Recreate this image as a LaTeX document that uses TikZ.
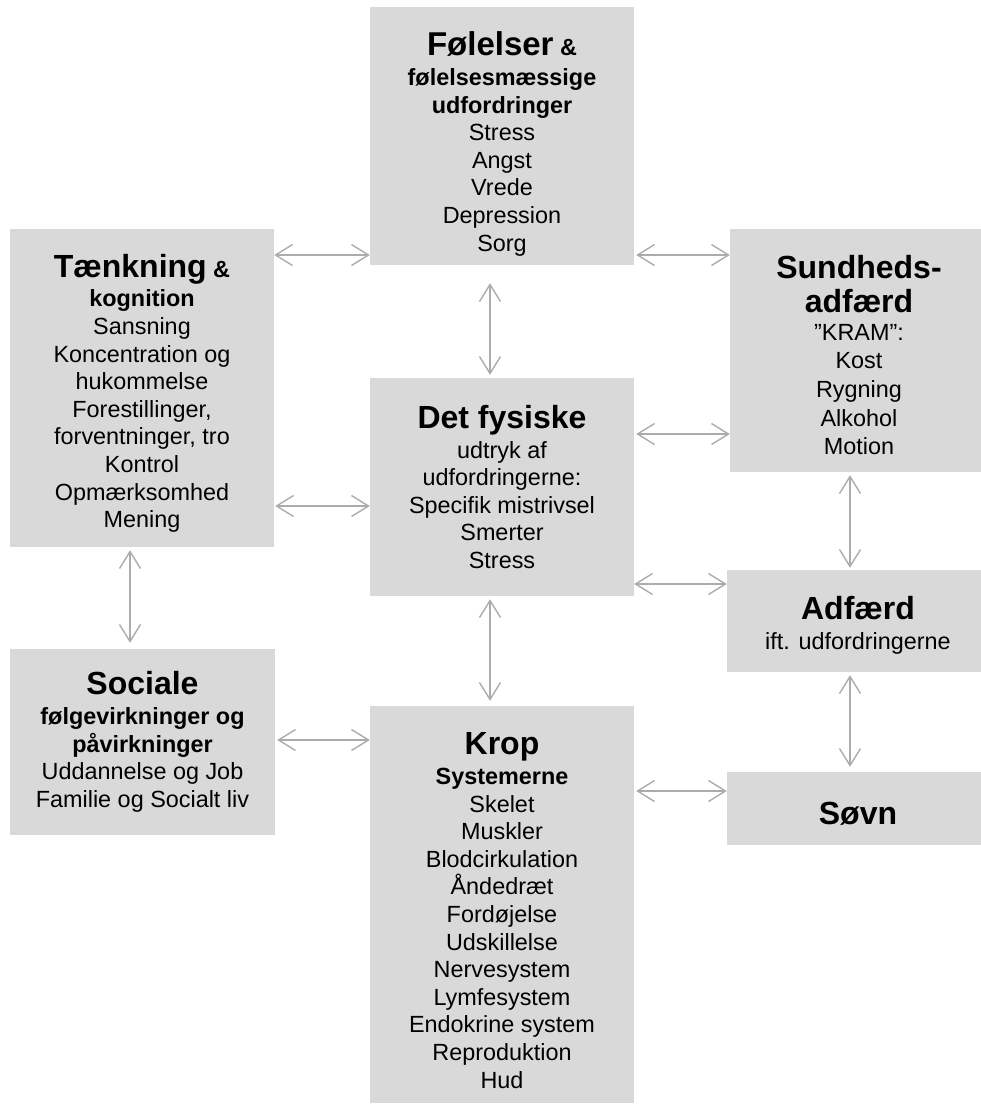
\documentclass[tikz,border=0pt]{standalone}
\usepackage{fontspec}
\setmainfont{Liberation Sans}
\usepackage{tikz}
\usetikzlibrary{arrows.meta, positioning}

\definecolor{boxgray}{RGB}{217,217,217}
\definecolor{linkgray}{RGB}{172,172,172}

\newcommand{\brodtekst}{\fontsize{23.4}{27.6}\selectfont}
\newcommand{\titel}[2][32]{{\fontsize{#1}{36}\selectfont\bfseries #2}}
\newcommand{\undertitel}[1]{{\bfseries #1}}
\newcommand{\luft}[1]{\rule{0pt}{#1}}

\begin{document}
\begin{tikzpicture}[x=1pt, y=-1pt,
  felt/.style 2 args={fill=boxgray, minimum width=#1, minimum height=#2,
    align=center, inner sep=0pt, font=\brodtekst},
  link/.style={{Straight Barb[length=17pt, width=21pt]}-{Straight Barb[length=17pt, width=21pt]},
    linkgray, line width=1.4pt},
]
\useasboundingbox (0,0) rectangle (981,1104);

\node[felt={264pt}{258pt}] (fol) at (502,136) {\luft{40pt}\titel[33]{Følelser} \undertitel{\&}\\[2pt]
  \undertitel{følelsesmæssige}\\\undertitel{udfordringer}\\
  Stress\\Angst\\Vrede\\Depression\\Sorg};
\node[felt={264pt}{318pt}] (taenk) at (142,388) {\luft{34pt}\titel{Tænkning} \undertitel{\&}\\[2pt]
  \undertitel{kognition}\\Sansning\\Koncentration og\\hukommelse\\
  Forestillinger,\\forventninger, tro\\Kontrol\\Opmærksomhed\\Mening};
\node[felt={258pt}{243pt}] (sund) at (859,350.5) {\luft{32pt}\titel{Sundheds-}\\[7pt]\titel{adfærd}\\
  ”KRAM”:\\[1pt]Kost\\[1pt]Rygning\\[1pt]Alkohol\\[1pt]Motion};
\node[felt={264pt}{218pt}] (fys) at (502,487) {\titel{Det fysiske}\\[2pt]
  udtryk af\\udfordringerne:\\Specifik mistrivsel\\Smerter\\Stress};
\node[felt={262pt}{102pt}] (adf) at (858,621) {\luft{32pt}\titel{Adfærd}\\[2pt]ift. udfordringerne};
\node[felt={265pt}{186pt}] (soc) at (142.5,742) {\titel{Sociale}\\[2pt]
  \undertitel{følgevirkninger og}\\\undertitel{påvirkninger}\\
  Uddannelse og Job\\Familie og Socialt liv};
\node[felt={264pt}{397pt}] (krop) at (502,904.5) {\luft{34pt}\titel{Krop}\\[2pt]
  \undertitel{Systemerne}\\Skelet\\Muskler\\Blodcirkulation\\Åndedræt\\Fordøjelse\\
  Udskillelse\\Nervesystem\\Lymfesystem\\Endokrine system\\Reproduktion\\Hud};
\node[felt={262pt}{73pt}] (sovn) at (858,808.5) {\luft{32pt}\titel{Søvn}};

% vandrette pile
\draw[link] (taenk.east |- 0,255) -- (fol.west |- 0,255);
\draw[link, shorten <=2pt] (fol.east |- 0,255) -- (sund.west |- 0,255);
\draw[link, shorten <=1pt] (taenk.east |- 0,506) -- (fys.west |- 0,506);
\draw[link, shorten <=2pt] (fys.east |- 0,434) -- (sund.west |- 0,434);
\draw[link] (fys.east |- 0,584) -- (adf.west |- 0,584);
\draw[link, shorten <=2pt] (soc.east |- 0,740) -- (krop.west |- 0,740);
\draw[link, shorten <=2pt] (krop.east |- 0,791) -- (sovn.west |- 0,791);

% lodrette pile
\draw[link, shorten <=18pt, shorten >=3pt] (fol.south -| 490,0) -- (fys.north -| 490,0);
\draw[link, shorten <=3pt, shorten >=5pt] (fys.south -| 490,0) -- (krop.north -| 490,0);
\draw[link, shorten <=3pt, shorten >=6pt] (taenk.south -| 130,0) -- (soc.north -| 130,0);
\draw[link, shorten <=3pt, shorten >=2pt] (sund.south -| 850,0) -- (adf.north -| 850,0);
\draw[link, shorten <=3pt, shorten >=5pt] (adf.south -| 850,0) -- (sovn.north -| 850,0);
\end{tikzpicture}
\end{document}
